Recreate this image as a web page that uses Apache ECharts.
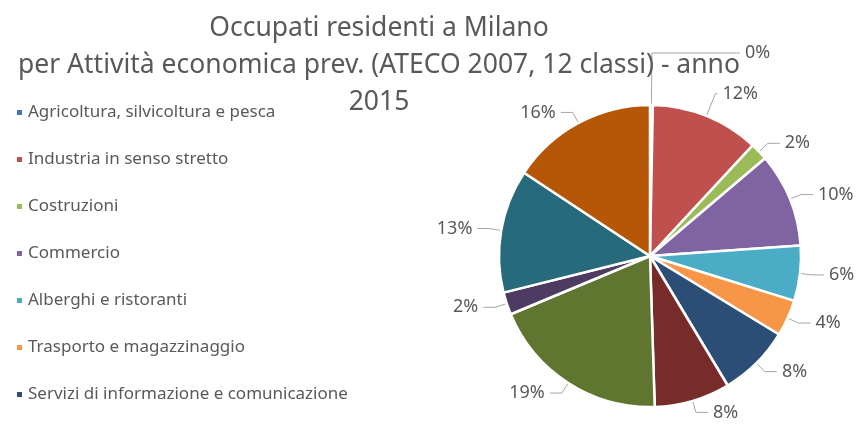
<!DOCTYPE html>
<html>
<head>
<meta charset="utf-8">
<title>Occupati residenti a Milano</title>
<script src="https://cdn.jsdelivr.net/npm/echarts@6/dist/echarts.min.js"></script>
<style>
body {
  margin: 0px;
  padding: 0px;
  background: #fff;
}
#chart {
  width: 856px;
  height: 430px;
}
</style>
</head>
<body>
<div id="chart"></div>
<script>
// classi ATECO (le ultime 5 non compaiono nella legenda visibile)
const categories = [
  "Agricoltura, silvicoltura e pesca",
  "Industria in senso stretto",
  "Costruzioni",
  "Commercio",
  "Alberghi e ristoranti",
  "Trasporto e magazzinaggio",
  "Servizi di informazione e comunicazione",
  "Attività finanziarie e assicurative",
  "Attività immobiliari, servizi alle imprese",
  "Amministrazione pubblica e difesa",
  "Istruzione, sanità e servizi sociali",
  "Altri servizi collettivi e personali"
];
// quote percentuali
const shares = [0.3, 11.6, 1.9, 10.1, 5.9, 3.9, 7.7, 8.1, 19.2, 2.4, 13.2, 15.7];
const colors = [
  "#4472C4", "#C0504D", "#9BBB59", "#8064A2", "#4BACC6", "#F79646",
  "#2C4D75", "#772C2A", "#5F7530", "#4D3B62", "#276A7C", "#B65708"
];
const legendShown = categories.slice(0, 7);

// lunghezze delle linee guida diverse per lo 0% e il 12%
const guideLines = {
  0: { length: 52, length2: 88 },
  1: { length: 24, length2: 2 }
};

let option = {
  color: colors,
  title: {
    text: "Occupati residenti a Milano\nper Attività economica prev. (ATECO 2007, 12 classi) - anno\n2015",
    left: 374,
    textAlign: "center",
    top: 5,
    textStyle: {
      fontFamily: "Noto Sans",
      fontWeight: "normal",
      fontSize: 26.5,
      lineHeight: 37,
      color: "#595959"
    }
  },
  legend: {
    data: legendShown,
    orient: "vertical",
    left: 10,
    top: 99,
    itemGap: 30,
    itemWidth: 7,
    itemHeight: 7,
    icon: "rect",
    textStyle: {
      fontFamily: "Noto Sans",
      fontSize: 17,
      color: "#595959"
    }
  },
  series: [
    {
      type: "pie",
      center: [650, 256],
      radius: 151,
      startAngle: 90,
      clockwise: true,
      avoidLabelOverlap: true,
      itemStyle: {
        borderColor: "#fff",
        borderWidth: 2.5
      },
      label: {
        show: true,
        position: "outside",
        overflow: "none",
        formatter: function (p) {
          return Math.round(p.percent) + "%";
        },
        fontFamily: "Noto Sans",
        fontSize: 18,
        color: "#595959"
      },
      labelLine: {
        show: true,
        length: 12,
        length2: 12,
        lineStyle: { color: "#A6A6A6", width: 1 }
      },
      emphasis: { disabled: true },
      data: categories.map((name, i) => {
        let item = { name: name, value: shares[i] };
        if (guideLines[i]) item.labelLine = guideLines[i];
        return item;
      })
    }
  ]
};

let chart = echarts.init(document.querySelector("#chart"));
chart.setOption(option);
</script>
</body>
</html>
